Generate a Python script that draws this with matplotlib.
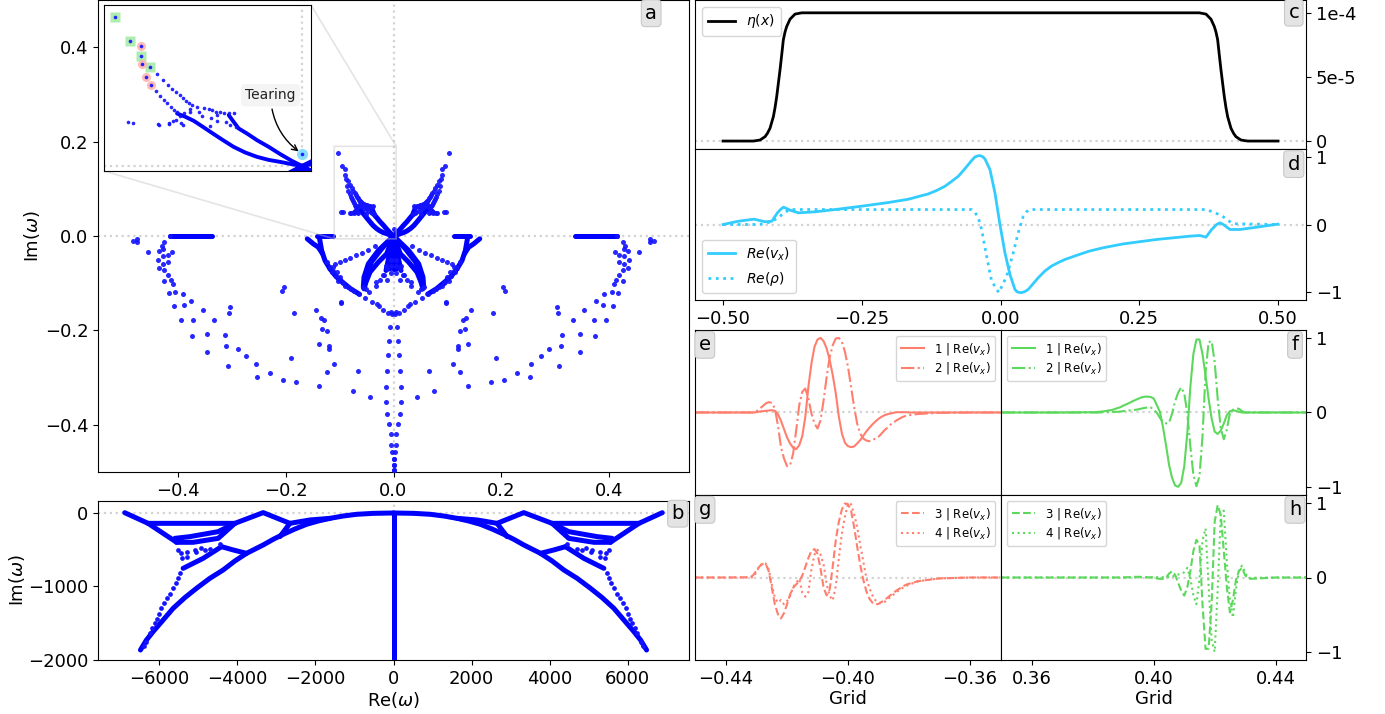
import numpy as np
import matplotlib
matplotlib.use("Agg")
import matplotlib.pyplot as plt

W, H = 1385, 714
plt.rcParams['font.size'] = 13
plt.rcParams['mathtext.default'] = 'it'

BLUE = '#1414ff'
RED = '#ff7f6e'
GREEN = '#5cd95c'
CYAN = '#33ccff'

# spectrum, panel a: isolated eigenvalues of the left half (spectrum is mirrored in Re)
re_far = [-0.484, -0.476, -0.476, -0.456, -0.434, -0.427, -0.410, -0.436, -0.428, -0.419, -0.428, -0.418,
          -0.435, -0.426, -0.418, -0.425, -0.412, -0.409, -0.416, -0.405, -0.391, -0.375, -0.407, -0.389,
          -0.354, -0.394, -0.371, -0.332, -0.303, -0.305, -0.374, -0.345, -0.313, -0.310, -0.346, -0.288,
          -0.274, -0.306, -0.255, -0.254, -0.229, -0.205, -0.180, -0.139, -0.124, -0.111, -0.138, -0.120,
          -0.119, -0.133, -0.124, -0.135, -0.129, -0.144, -0.185, -0.206, -0.203, -0.190, -0.075, -0.043,
          -0.066, -0.097]
im_far = [-0.011, -0.007, -0.013, -0.034, -0.031, -0.028, -0.033, -0.050, -0.043, -0.040, -0.060, -0.056,
          -0.068, -0.072, -0.083, -0.095, -0.093, -0.102, -0.120, -0.118, -0.122, -0.137, -0.149, -0.147,
          -0.156, -0.179, -0.177, -0.178, -0.151, -0.163, -0.212, -0.207, -0.210, -0.233, -0.245, -0.240,
          -0.254, -0.276, -0.271, -0.298, -0.290, -0.305, -0.310, -0.317, -0.288, -0.271, -0.228, -0.232,
          -0.240, -0.197, -0.201, -0.174, -0.178, -0.156, -0.163, -0.117, -0.108, -0.259, -0.329, -0.342,
          -0.287, -0.140]

re_near = [-0.1240, -0.1178, -0.1129, -0.1147, -0.1067, -0.1023, -0.0931, -0.0900, -0.0838, -0.0795, -0.0733,
           -0.0634, -0.0535, -0.0405, -0.0312, -0.0275, -0.0189, -0.0108, -0.0053, -0.0028, -0.1116, -0.1054,
           -0.0993, -0.0949, -0.1085, -0.0993, -0.0900, -0.0807, -0.0702, -0.0591, -0.0479, -0.0337, -0.0974,
           -0.0250, -0.0331, -0.0331, -0.0121, -0.0176, -0.0046, -0.0127, -0.0145, -0.0053, -0.0053, -0.0201,
           -0.0560, -0.0510, -0.0448, -0.4150, -0.4250, -0.4300]
im_near = [-0.0554, -0.0660, -0.0745, -0.0766, -0.0858, -0.0957, -0.0992, -0.1063, -0.1070, -0.1119, -0.1155,
           -0.1232, -0.1310, -0.1388, -0.1437, -0.1487, -0.1564, -0.1635, -0.1613, -0.1656, -0.0660, -0.0766,
           -0.0872, -0.0978, -0.0590, -0.0547, -0.0505, -0.0463, -0.0413, -0.0357, -0.0293, -0.0222, -0.1409,
           -0.0929, -0.0978, -0.1049, -0.0936, -0.0816, -0.0787, -0.0696, -0.0625, -0.0519, -0.0646, -0.0823,
           -0.1084, -0.1119, -0.1190, -0.0010, -0.0120, -0.0220]

re_column = [-0.0059, -0.0077, -0.0096, -0.0114, -0.0133, -0.0139, -0.0114, -0.0077, -0.0053, -0.0040, -0.0028,
             0.0, 0.0, 0.0]
im_column = [-0.1924, -0.2214, -0.2525, -0.2857, -0.3196, -0.3527, -0.3761, -0.3987, -0.4205, -0.4424, -0.4580,
             -0.4735, -0.486, -0.4968]

# upper left wing, also the ones marked in the inset
re_wing = [-0.0806, -0.0774, -0.0744, -0.0722, -0.0700, -0.0680, -0.0661, -0.0644, -0.0630, -0.0611, -0.0583,
           -0.0544, -0.0519, -0.0498, -0.0478, -0.0454, -0.0431, -0.0406, -0.0378, -0.0811, -0.0787, -0.0767,
           -0.0748, -0.0730, -0.0713, -0.0696, -0.0676, -0.0965, -0.0939, -0.0802, -0.0796, -0.0741, -0.0737,
           -0.0717, -0.0702, -0.0654, -0.0670, -0.0659, -0.0624, -0.0620, -0.0570, -0.0554, -0.0507, -0.0470,
           -0.0470, -0.0424, -0.0400, -0.0513, -0.0367]
im_wing = [0.1081, 0.1010, 0.0955, 0.0911, 0.0868, 0.0832, 0.0797, 0.0765, 0.0738, 0.0714, 0.0694,
           0.0686, 0.0667, 0.0655, 0.0639, 0.0631, 0.0627, 0.0619, 0.0627, 0.0884, 0.0824, 0.0777,
           0.0742, 0.0698, 0.0663, 0.0631, 0.0592, 0.0517, 0.0501, 0.0497, 0.0489, 0.0497, 0.0509,
           0.0536, 0.0548, 0.0623, 0.0509, 0.0485, 0.0675, 0.0639, 0.0631, 0.0592, 0.0568, 0.0604,
           0.0536, 0.0513, 0.0489, 0.0473, 0.0462]

re_green = [-0.1037, -0.0956, -0.0893, -0.0844]
im_green = [0.1763, 0.1475, 0.1298, 0.1172]
re_pink = [-0.0894, -0.0889, -0.0865, -0.0839]
im_pink = [0.1420, 0.1199, 0.1053, 0.0955]
re_tear = [0.0]
im_tear = [0.0142]

# densely packed branches in panel a
branches_a = [
    ([-0.0694, -0.0648, -0.0602, -0.0556, -0.0509, -0.0444, -0.0380, -0.0315, -0.0250, -0.0185, -0.0120, -0.0056, 0.0],
     [0.0619, 0.0580, 0.0533, 0.0469, 0.0402, 0.0311, 0.0225, 0.0158, 0.0107, 0.0071, 0.0047, 0.0020, 0.0]),
    ([-0.0407, -0.0380, -0.0352, -0.0306, -0.0250, -0.0185, -0.0120, -0.0056, 0.0],
     [0.0600, 0.0521, 0.0442, 0.0383, 0.0304, 0.0225, 0.0138, 0.0059, 0.0]),
    ([-0.415, -0.337], [0.0, 0.0]),
    ([-0.1413, -0.1125], [0.0, 0.0]),
    ([-0.1376, -0.1333, -0.1271, -0.1178], [-0.0025, -0.0307, -0.0519, -0.0696]),
    ([-0.1599, -0.1487, -0.1395, -0.1314], [-0.0060, -0.0166, -0.0237, -0.0378]),
    ([-0.1178, -0.1067, -0.0931, -0.0795, -0.0634], [-0.0696, -0.0858, -0.0992, -0.1119, -0.1232]),
    ([0.0, -0.0281, -0.0467, -0.0547, -0.0560], [0.0, -0.0307, -0.0590, -0.0872, -0.1084]),
    ([0.0, -0.0127, -0.0281, -0.0436, -0.0510, -0.0547], [0.0, -0.0378, -0.0554, -0.0766, -0.0978, -0.1119]),
    ([0.0, -0.0220, -0.0405, -0.0510, -0.0547], [0.0, -0.0272, -0.0544, -0.0837, -0.1073]),
    ([0.0, -0.0139], [0.0, -0.0731]),
    ([0.0, -0.0108], [0.0, -0.0625]),
    ([0.0, -0.0065], [0.0, -0.0696]),
    ([0.0, -0.0030], [0.0, -0.0650]),
    ([0.0, 0.0], [0.0, -0.07]),
]

# panel b branches
branches_b = [
    ([-6483, -6329, -6158, -5902, -5645, -5346, -5047, -4705, -4363, -4064, -3765, -3338, -3081, -2825, -2526, -2226,
      -1927, -1628, -1286, -945, -517, 0],
     [-1864, -1728, -1614, -1456, -1297, -1152, -1025, -889, -775, -653, -549, -435, -358, -290, -218, -154,
      -109, -73, -41, -18, -5, 0]),
    ([-6885, -6287, -5646, -5558], [4, -141, -367, -399]),
    ([-6287, -5219, -4064, -3338, -2654, -2910], [-141, -141, -141, 5, -141, -322]),
    ([-2654, -2141, -1628], [-141, -95, -73]),
    ([-5600, -5219, -4491, -4064], [-345, -322, -254, -141]),
    ([-5558, -5132, -4491, -4064], [-399, -399, -345, -141]),
    ([-4406, -4107, -3765], [-458, -503, -549]),
    ([-4406, -4876, -5389], [-458, -617, -753]),
    ([0, 0], [0, -2100]),
]
re_b_dots = [-5517, -5432, -5406, -5278, -5278, -5090, -5064, -4919, -4833, -4705, -4432, -5458, -5517, -5577,
             -5645, -5730, -5799, -5867, -5944, -6004, -6055, -6115, -6175, -6243, -6329, -6400]
im_b_dots = [-503, -549, -617, -535, -594, -503, -535, -481, -503, -490, -426, -821, -889, -957,
             -1025, -1102, -1161, -1229, -1297, -1379, -1442, -1501, -1569, -1637, -1750, -1810]

# panels c, d
x_eta = [-0.5, -0.4453, -0.4333, -0.4243, -0.42, -0.4153, -0.4093, -0.4063, -0.4033, -0.4003, -0.3973, -0.3943, -0.3913,
         -0.3883, -0.3853, -0.3793, -0.3703, -0.3583, -0.34,
         0.34, 0.3583, 0.3703, 0.3793, 0.3853, 0.3883, 0.3913, 0.3943, 0.3973, 0.4003, 0.4033, 0.4063, 0.4093, 0.4153,
         0.42, 0.4243, 0.4333, 0.4453, 0.5]
eta = [0, 0, 0.008, 0.034, 0.06, 0.10, 0.19, 0.26, 0.346, 0.45, 0.555, 0.67, 0.79,
       0.85, 0.893, 0.95, 0.99, 1.0, 1.0,
       1.0, 1.0, 0.99, 0.95, 0.893, 0.85, 0.79, 0.67, 0.555, 0.45, 0.346, 0.26, 0.19, 0.10,
       0.06, 0.034, 0.008, 0, 0]
eta = [v * 1e-4 for v in eta]

x_vx = [-0.5, -0.472, -0.444, -0.424, -0.412, -0.402, -0.396, -0.391, -0.385, -0.379, -0.364, -0.334, -0.298, -0.250,
        -0.202, -0.166, -0.130, -0.115, -0.100, -0.088, -0.076, -0.067, -0.058, -0.052, -0.046, -0.041, -0.037, -0.032,
        -0.028, -0.019, -0.010, -0.001, 0.008, 0.017, 0.026, 0.030, 0.037, 0.044, 0.050, 0.068, 0.080, 0.092, 0.104,
        0.116, 0.140, 0.160, 0.185, 0.221, 0.2813, 0.3413, 0.3593, 0.3703, 0.3805, 0.3895, 0.3955, 0.4015,
        0.4135, 0.4315, 0.4615, 0.5]
vx = [0, 0.049, 0.079, 0.040, 0.049, 0.173, 0.225, 0.257, 0.235, 0.212, 0.173, 0.188, 0.222, 0.272,
      0.326, 0.375, 0.454, 0.505, 0.568, 0.640, 0.716, 0.800, 0.889, 0.950, 1.002, 1.018, 1.022, 1.005,
      0.973, 0.815, 0.469, 0, -0.420, -0.741, -0.963, -1.000, -1.012, -0.995, -0.963, -0.790, -0.690, -0.617, -0.565,
      -0.519, -0.45, -0.395, -0.345, -0.288, -0.222, -0.173, -0.163, -0.188, -0.074, 0, 0.025, 0,
      -0.074, -0.074, -0.04, 0.005]
x_rho = [-0.5, -0.44, -0.425, -0.412, -0.40, -0.391, -0.379, -0.25, -0.1, -0.052, -0.046, -0.040, -0.034, -0.025, -0.016,
         -0.003, 0.011, 0.023, 0.032, 0.041, 0.047, 0.053, 0.1, 0.25, 0.3713, 0.3833, 0.3983, 0.4163, 0.4253, 0.5]
rho = [0, 0, 0.01, 0.05, 0.10, 0.17, 0.222, 0.222, 0.222, 0.222, 0.18, 0.10, -0.074, -0.47, -0.84,
       -1.01, -0.77, -0.42, -0.12, 0.12, 0.19, 0.222, 0.222, 0.222, 0.222, 0.183, 0.133, 0.025, 0.01, 0]

# panels e, g are read on a 0.001 grid from -0.432 to -0.380
grid_left = np.arange(-432, -379) / 1000
e1 = [0, 0, .004, .013, .018, .022, .027, .031, .022, -.022, -.112, -.224, -.336, -.417, -.475, -.493, -.44, -.318,
      -.058, .345, .659, .883, .982, 1.004, .96, .861, .704, .502, .256, -.058, -.283, -.408, -.453, -.466, -.457,
      -.417, -.372, -.314, -.256, -.206, -.161, -.121, -.085, -.058, -.036, -.022, -.013, -.004, .004, .004, .004,
      .004, 0]
e2 = [0, 0, .018, .049, .085, .121, .139, .13, .054, -.17, -.462, -.619, -.722, -.709, -.552, -.238, .099, .278, .323,
      .188, -.013, -.148, -.215, -.103, .166, .48, .749, .906, .996, 1.004, .951, .816, .614, .345, .076, -.148, -.283,
      -.35, -.377, -.386, -.372, -.35, -.327, -.283, -.238, -.202, -.161, -.135, -.103, -.081, -.058, -.045, -.036]
g3 = [.004, .036, .098, .151, .182, .182, .084, -.138, -.36, -.493, -.551, -.48, -.36, -.227, -.138, -.093, -.049, .027,
      .142, .262, .36, .382, .32, .116, -.138, -.24, -.16, .151, .507, .751, .916, .996, .987, .898, .684, .418, .173,
      -.027, -.182, -.284, -.338, -.36, -.356, -.329, -.298, -.271, -.236, -.204, -.173, -.147, -.12, -.098, -.084]
g4 = [0, .004, .084, .151, .196, .187, .107, -.093, -.271, -.338, -.302, -.36, -.316, -.249, -.129, -.071, -.018, -.204,
      -.258, -.196, .107, .307, .373, .307, .173, -.093, -.249, -.307, -.116, .262, .596, .818, .996, .987, .853, .684,
      .44, .218, -.004, -.138, -.24, -.307, -.338, -.347, -.329, -.293, -.262, -.227, -.196, -.164, -.138, -.116, -.098]
x_left_tail = [-0.45, -0.44]
x_right_tail = [-0.377, -0.37, -0.36, -0.35]
e1_tail = [0, 0, 0, 0]
e2_tail = [-.02, -.005, 0, 0]
g3_tail = [-.05, -.012, 0, 0]
g4_tail = [-.05, -.012, 0, 0]

# panels f, h on a 0.001 grid from 0.380 to 0.432
grid_right = np.arange(380, 433) / 1000
f1 = [.004, .004, .009, .013, .018, .027, .031, .044, .058, .071, .093, .111, .129, .151, .169, .187, .204, .213, .213,
      .209, .187, .098, .009, -.191, -.436, -.702, -.88, -.982, -1.0, -.947, -.724, -.28, .342, .787, .982, .982, .787,
      .498, .187, -.08, -.258, -.289, -.244, -.147, -.036, .018, .027, .022, .009, 0, 0, 0, 0]
f2 = [0, 0, 0, .004, .004, .004, .009, .009, .009, .013, .018, .022, .027, .031, .036, .044, .053, .062, .067, .067,
      .036, -.004, -.071, -.133, -.147, -.138, -.018, .151, .267, .338, .258, -.009, -.453, -.84, -.991, -.858, -.324,
      .538, .947, .96, .68, .178, -.213, -.36, -.227, -.009, .036, .058, .049, .018, 0, 0, 0]
h3 = [0, 0, 0, 0, 0, 0, 0, 0, 0, 0, 0, .004, .004, .009, .009, .009, .009, .004, .004, 0, -.009, -.013, -.018, -.018,
      -.004, .053, .084, .036, -.071, -.178, -.244, -.133, .084, .356, .507, .44, -.36, -.96, -.96, -.35, .75, .974,
      .84, .35, -.13, -.47, -.3, -.03, .09, .13, .03, -.013, -.018]
h4 = [0, 0, 0, 0, 0, 0, 0, 0, 0, 0, 0, 0, 0, 0, 0, 0, 0, 0, 0, .004, .004, .004, .004, .004, .004, .004, .004, .035, .04,
      .05, .07, .13, -.01, -.24, -.36, -.02, .5, .66, -.1, -.85, -1.0, -.15, .85, .9, .2, -.3, -.54, -.15, .1, .16,
      .07, -.01, -.005]
x_f_head = [0.35, 0.37]
x_f_tail = [0.44, 0.45]


def axes_px(left, top, right, bottom):
    return fig.add_axes([left / W, 1 - bottom / H, (right - left) / W, (bottom - top) / H])


def zero_lines(ax, vertical=False):
    ax.axhline(0, color='lightgray', ls=':', lw=1.6, zorder=0)
    if vertical:
        ax.axvline(0, color='lightgray', ls=':', lw=1.6, zorder=0)


def letter(ax, s, x, y):
    ax.text(x, y, s, transform=ax.transAxes, fontsize=14, ha='center', va='center', zorder=20,
            bbox=dict(boxstyle='round,pad=0.2', fc='#e4e4e4', ec='#c8c8c8', lw=0.8))


def mirrored(values, sign=-1):
    return np.concatenate([np.array(values), sign * np.array(values)])


def draw_spectrum(ax, ms, lw):
    re_all = mirrored(re_far + re_near + re_column + re_wing + re_green + re_pink)
    im_all = mirrored(im_far + im_near + im_column + im_wing + im_green + im_pink, 1)
    for re_line, im_line in branches_a:
        ax.plot(re_line, im_line, color='#0000ff', lw=lw, solid_capstyle='round', zorder=2)
        ax.plot(-np.array(re_line), im_line, color='#0000ff', lw=lw, solid_capstyle='round', zorder=2)
    ax.plot(re_all, im_all, 'o', color=BLUE, ms=ms, mec='none', alpha=0.92, zorder=3)
    ax.plot(re_tear, im_tear, 'o', color=BLUE, ms=ms, mec='none', alpha=0.92, zorder=3)


fig = plt.figure(figsize=(W / 100, H / 100), dpi=100)

# panel a
ax_a = axes_px(98, 0, 689, 472)
zero_lines(ax_a, True)
draw_spectrum(ax_a, 3.6, 3.6)
ax_a.set_xlim(-0.548, 0.548)
ax_a.set_ylim(-0.5, 0.5)
ax_a.set_xticks([-0.4, -0.2, 0.0, 0.2, 0.4])
ax_a.set_yticks([-0.4, -0.2, 0.0, 0.2, 0.4])
ax_a.set_ylabel(r'Im($\omega$)', labelpad=2)
letter(ax_a, 'a', 0.936, 0.972)

ins = ax_a.inset_axes([(104 - 98) / 591, 1 - 171 / 472, 207 / 591, 166 / 472])
zero_lines(ins, True)
ins.plot(re_green, im_green, 's', color='#9be89b', ms=6.5, mec='none', alpha=0.8, zorder=1)
ins.plot(re_pink, im_pink, 'o', color='#ffb0a8', ms=6.5, mec='none', alpha=0.85, zorder=1)
ins.plot(re_tear, im_tear, 'o', color='#88ddff', ms=8, mec='none', zorder=1)
draw_spectrum(ins, 2.6, 2.8)
ins.set_xlim(-0.11, 0.005)
ins.set_ylim(-0.006, 0.19)
ins.set_xticks([])
ins.set_yticks([])
ax_a.indicate_inset_zoom(ins, edgecolor='#c4c4c4', lw=1.2, alpha=0.45)
ins.annotate('Tearing', xy=(0, 0.0142), xytext=(-0.0175, 0.0835), fontsize=10, ha='center', va='center',
             color='#222222', bbox=dict(boxstyle='round,pad=0.3', fc='#f4f4f4', ec='none'),
             arrowprops=dict(arrowstyle='->', color='k', lw=1, connectionstyle='arc3,rad=0.25', shrinkB=3))

# panel b
ax_b = axes_px(98, 501, 689, 660)
zero_lines(ax_b, True)
for re_line, im_line in branches_b:
    ax_b.plot(re_line, im_line, color='#0000ff', lw=3.6, solid_capstyle='round', zorder=2)
    ax_b.plot(-np.array(re_line), im_line, color='#0000ff', lw=3.6, solid_capstyle='round', zorder=2)
ax_b.plot(mirrored(re_b_dots), mirrored(im_b_dots, 1), 'o', color=BLUE, ms=3.4, mec='none', zorder=3)
ax_b.set_xlim(-7570, 7570)
ax_b.set_ylim(-2000, 163)
ax_b.set_xticks([-6000, -4000, -2000, 0, 2000, 4000, 6000])
ax_b.set_yticks([0, -1000, -2000])
ax_b.set_xlabel(r'Re($\omega$)', labelpad=2)
ax_b.set_ylabel(r'Im($\omega$)', labelpad=1)
letter(ax_b, 'b', 0.981, 0.92)

# panel c
ax_c = axes_px(695, 0, 1306, 149)
zero_lines(ax_c)
ax_c.plot(x_eta, eta, color='k', lw=2, label=r'$\eta(x)$')
ax_c.set_xlim(-0.5505, 0.5505)
ax_c.set_ylim(-6.2e-6, 1.1e-4)
ax_c.set_xticks([])
ax_c.yaxis.tick_right()
ax_c.set_yticks([0, 5e-5, 1e-4])
ax_c.set_yticklabels(['0', '5e-5', '1e-4'])
ax_c.legend(loc='upper left', fontsize=10, bbox_to_anchor=(0.0, 1.0))
letter(ax_c, 'c', 0.98, 0.915)

# panel d
ax_d = axes_px(695, 149, 1306, 300)
zero_lines(ax_d)
ax_d.plot(x_vx, vx, color=CYAN, lw=2, label=r'$Re(v_x)$')
ax_d.plot(x_rho, rho, color=CYAN, lw=2, ls=':', label=r'$Re(\rho)$')
ax_d.set_xlim(-0.5505, 0.5505)
ax_d.set_ylim(-1.12, 1.12)
ax_d.set_xticks([-0.5, -0.25, 0, 0.25, 0.5])
ax_d.set_xticklabels(['\u22120.50', '\u22120.25', '0.00', '0.25', '0.50'])
ax_d.yaxis.tick_right()
ax_d.set_yticks([-1, 0, 1])
ax_d.legend(loc='lower left', fontsize=10)
letter(ax_d, 'd', 0.98, 0.9)

# panels e to h
ax_e = axes_px(695, 330, 1001, 495)
ax_f = axes_px(1001, 330, 1306, 495)
ax_g = axes_px(695, 495, 1001, 660)
ax_h = axes_px(1001, 495, 1306, 660)

x_e = np.concatenate([x_left_tail, grid_left, x_right_tail])
x_f = np.concatenate([x_f_head, grid_right, x_f_tail])
pad = [0, 0]

ax_e.plot(x_e, pad + e1 + e1_tail, color=RED, lw=1.5, ls='-', label=r'1 | Re($v_x$)')
ax_e.plot(x_e, pad + e2 + e2_tail, color=RED, lw=1.5, ls='-.', label=r'2 | Re($v_x$)')
ax_g.plot(x_e, pad + g3 + g3_tail, color=RED, lw=1.5, ls='--', label=r'3 | Re($v_x$)')
ax_g.plot(x_e, pad + g4 + g4_tail, color=RED, lw=1.5, ls=':', label=r'4 | Re($v_x$)')
ax_f.plot(x_f, pad + f1 + pad, color=GREEN, lw=1.5, ls='-', label=r'1 | Re($v_x$)')
ax_f.plot(x_f, pad + f2 + pad, color=GREEN, lw=1.5, ls='-.', label=r'2 | Re($v_x$)')
ax_h.plot(x_f, pad + h3 + pad, color=GREEN, lw=1.5, ls='--', label=r'3 | Re($v_x$)')
ax_h.plot(x_f, pad + h4 + pad, color=GREEN, lw=1.5, ls=':', label=r'4 | Re($v_x$)')

for ax in [ax_e, ax_f, ax_g, ax_h]:
    zero_lines(ax)
    ax.set_ylim(-1.11, 1.11)
for ax in [ax_e, ax_g]:
    ax.set_xlim(-0.4502, -0.3498)
    ax.set_yticks([])
    ax.legend(loc='upper right', fontsize=8.5, labelspacing=0.3)
for ax in [ax_f, ax_h]:
    ax.set_xlim(0.3498, 0.45)
    ax.yaxis.tick_right()
    ax.set_yticks([-1, 0, 1])
    ax.legend(loc='upper left', fontsize=8.5, labelspacing=0.3)
for ax in [ax_e, ax_f]:
    ax.set_xticks([])
ax_g.set_xticks([-0.44, -0.40, -0.36])
ax_g.set_xticklabels(['\u22120.44', '\u22120.40', '\u22120.36'])
ax_h.set_xticks([0.36, 0.40, 0.44])
ax_h.set_xticklabels(['0.36', '0.40', '0.44'])
ax_g.set_xlabel('Grid', labelpad=2)
ax_h.set_xlabel('Grid', labelpad=2)
letter(ax_e, 'e', 0.032, 0.91)
letter(ax_f, 'f', 0.964, 0.91)
letter(ax_g, 'g', 0.032, 0.91)
letter(ax_h, 'h', 0.964, 0.91)

fig.savefig('out.png', dpi=100)
